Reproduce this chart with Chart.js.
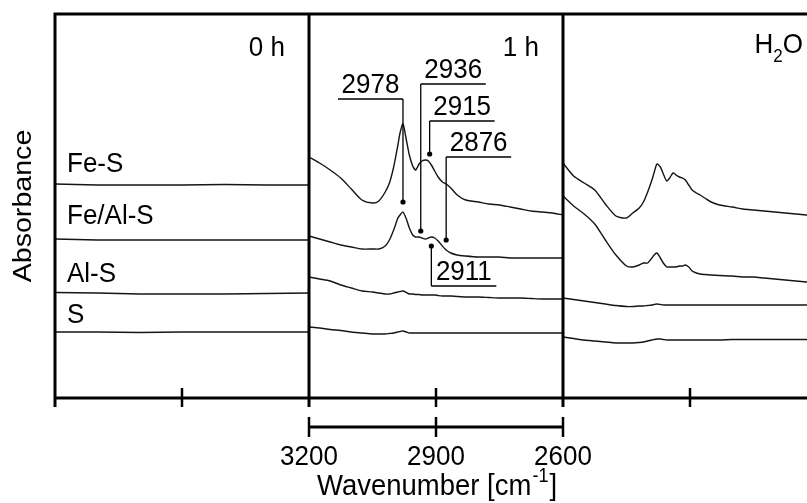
<!DOCTYPE html>
<html>
<head>
<meta charset="utf-8">
<script src="https://cdn.jsdelivr.net/npm/chart.js@4.4.0/dist/chart.umd.min.js"></script>
<style>
  html, body { margin: 0; padding: 0; background: #fff; }
  canvas { display: block; }
</style>
</head>
<body>
<canvas id="c" width="807" height="503"></canvas>
<script>
// panels and samples
const panels = ['0 h', '1 h', 'H2O'];
const samples = ['Fe-S', 'Fe/Al-S', 'Al-S', 'S'];

// wavenumber grids (cm-1)
const wnFlat = [3200, 3100, 3000, 2900, 2800, 2700, 2600];
const wnGrid = [3200, 3175, 3150, 3125, 3100, 3075, 3050, 3035, 3020, 3010,
                3000, 2990, 2985, 2978, 2970, 2963, 2955, 2948, 2940, 2933,
                2925, 2918, 2911, 2903, 2895, 2885, 2876, 2865, 2850, 2830,
                2800, 2775, 2750, 2725, 2700, 2675, 2650, 2625, 2600];

// absorbance (offset, a.u.) - 0 h
const feS_0h   = [214, 213, 213, 213, 213.5, 213, 213];
const feAlS_0h = [159, 158, 158, 158, 158, 158, 158];
const alS_0h   = [105.5, 105, 104, 104, 104, 104.5, 105];
const s_0h     = [66, 66, 65.5, 66, 66, 66, 66];

// 1 h
const feS_1h = [241, 235, 228, 220, 209, 198, 195, 197, 206, 215,
                231, 253, 265, 274, 258, 243, 232, 228, 234, 237,
                238, 237, 233, 227, 221, 216, 214, 210, 203, 198,
                196, 194, 193, 191, 189, 187, 186, 185, 183];
const feAlS_1h = [162, 159, 156, 153, 151, 149, 149, 149, 152, 158,
                  168, 180, 183, 186, 179, 170, 163, 161, 161, 160,
                  159, 160, 161, 160, 157, 152, 148, 145, 143, 142,
                  141, 141, 141, 140, 140, 140, 140, 140, 140];
const alS_1h = [121, 119, 117, 113, 110, 107, 106, 105, 104, 104,
                105, 106, 106.5, 107, 105.5, 104, 104, 103.5, 103.5, 103,
                103, 103, 103, 103, 102.5, 102, 102, 102, 101.5, 101,
                101, 100.5, 100, 100, 100, 99.5, 99, 99, 99];
const s_1h = [71, 70, 68.5, 67.5, 66, 65, 64, 64, 64, 64.5,
              65, 66, 66.5, 67, 66, 65, 65, 65, 65, 65,
              65, 65, 65, 65, 65, 65, 65, 65, 65, 65,
              65, 65, 65, 65, 65, 65, 65, 65, 65];

// H2O
const feS_h2o = [235, 222, 215, 208, 194, 182, 180, 185, 190, 196,
                 206, 218, 225, 234, 231, 224, 217, 220, 225, 223,
                 221, 220, 218, 213, 208, 205, 203, 200, 196, 193,
                 191, 189, 188, 187, 186, 185, 184, 183, 183];
const feAlS_h2o = [202, 192, 184, 174, 158, 143, 132, 131, 133, 135,
                   135, 140, 143, 145, 140, 135, 131, 131, 131, 131,
                   132, 132, 133, 131, 127, 125, 124, 123.5, 123, 122.5,
                   122, 121, 121, 120, 119, 118, 117, 116, 116];
const alS_h2o = [100, 98.5, 97, 95.5, 94, 92.5, 91.5, 91.5, 92, 92,
                 92.5, 93, 93.5, 94, 93.5, 93, 93, 93, 93, 93,
                 93, 93, 93, 93, 93, 93, 93, 93, 93, 93,
                 93, 93, 93, 93, 93, 93, 93, 93, 93];
const s_h2o = [61, 59.5, 58, 57, 56, 55, 55, 55, 55.5, 56,
               57, 58, 58.5, 59, 59, 58.5, 58, 58, 58, 58,
               58, 58, 58, 58, 58, 58, 58, 58, 58, 58,
               58.5, 58.5, 58.5, 58.5, 58.5, 58.5, 58.5, 58.5, 58.5];

// marked peaks in the 1 h panel
const peakLabels = ['2978', '2936', '2915', '2876', '2911'];
const peakWn     = [2978, 2936, 2915, 2876, 2911];
const peakDot    = [196, 167, 244, 158, 152];

// wavenumber scale bar
const scaleTicks = [3200, 2900, 2600];

const WN_HI = 3200, WN_SPAN = 600;
const xOf = (panel, wn) => panel + (WN_HI - wn) / WN_SPAN;

function series(panel, wns, vals) {
  return wns.map((w, i) => ({ x: xOf(panel, w), y: vals[i] }));
}

const panelData = [
  { wn: wnFlat, sets: [feS_0h, feAlS_0h, alS_0h, s_0h] },
  { wn: wnGrid, sets: [feS_1h, feAlS_1h, alS_1h, s_1h] },
  { wn: wnGrid, sets: [feS_h2o, feAlS_h2o, alS_h2o, s_h2o] }
];

const datasets = [];
panelData.forEach((p, pi) => {
  p.sets.forEach((vals, si) => {
    datasets.push({
      label: samples[si] + ' ' + panels[pi],
      data: series(pi, p.wn, vals),
      borderColor: '#151515',
      borderWidth: 1.4,
      pointRadius: 0,
      tension: 0.25,
      fill: false
    });
  });
});

const FONT = '"Liberation Sans", Arial, Helvetica, sans-serif';

function txt(ctx, s, x, y, size, align) {
  ctx.save();
  ctx.font = size + 'px ' + FONT;
  ctx.textAlign = align || 'left';
  ctx.textBaseline = 'alphabetic';
  ctx.translate(x, y);
  ctx.scale(1, 1.08);
  ctx.fillText(s, 0, 0);
  ctx.restore();
}

const framePlugin = {
  id: 'frame',
  afterDraw(chart) {
    const ctx = chart.ctx;
    const xs = chart.scales.x, ys = chart.scales.y;
    const a = chart.chartArea;
    const X = v => xs.getPixelForValue(v);
    const Y = v => ys.getPixelForValue(v);
    ctx.save();
    ctx.strokeStyle = '#000';
    ctx.fillStyle = '#000';
    ctx.lineCap = 'butt';

    // frame + panel dividers
    ctx.lineWidth = 3;
    ctx.beginPath();
    ctx.moveTo(a.left, a.top); ctx.lineTo(a.right, a.top);
    ctx.moveTo(a.left, a.bottom); ctx.lineTo(a.right, a.bottom);
    [0, 1, 2].forEach(p => {
      ctx.moveTo(X(p), a.top - 1.5); ctx.lineTo(X(p), a.bottom + 9);
    });
    ctx.stroke();

    // minor ticks across bottom axis
    ctx.lineWidth = 2.5;
    ctx.beginPath();
    [0.5, 1.5, 2.5].forEach(p => {
      ctx.moveTo(X(p), a.bottom - 10); ctx.lineTo(X(p), a.bottom + 9);
    });
    ctx.stroke();

    // scale bar for 1 h panel
    const barY = a.bottom + 29;
    ctx.lineWidth = 3;
    ctx.beginPath();
    ctx.moveTo(X(xOf(1, WN_HI)), barY); ctx.lineTo(X(xOf(1, WN_HI - WN_SPAN)), barY);
    ctx.stroke();
    ctx.lineWidth = 2.5;
    ctx.beginPath();
    scaleTicks.forEach(w => {
      ctx.moveTo(X(xOf(1, w)), barY - 10); ctx.lineTo(X(xOf(1, w)), barY + 10);
    });
    ctx.stroke();
    scaleTicks.forEach(w => txt(ctx, String(w), X(xOf(1, w)), 465, 26, 'center'));

    // x title with superscript
    const tSize = 27.5, sSize = 18;
    const t1 = 'Wavenumber [cm', t3 = ']';
    ctx.font = sSize + 'px ' + FONT;
    const wSup = ctx.measureText('-1').width;
    ctx.font = tSize + 'px ' + FONT;
    const w1 = ctx.measureText(t1).width, w3 = ctx.measureText(t3).width;
    const total = w1 + wSup + 2 + w3;
    let tx = 437 - total / 2;
    txt(ctx, t1, tx, 495, tSize, 'left');
    txt(ctx, '-1', tx + w1 + 1, 482, sSize, 'left');
    txt(ctx, t3, tx + w1 + wSup + 2, 495, tSize, 'left');

    // y title
    ctx.save();
    ctx.translate(31, 206);
    ctx.rotate(-Math.PI / 2);
    ctx.scale(1.1, 1);
    ctx.font = '26px ' + FONT;
    ctx.textAlign = 'center';
    ctx.textBaseline = 'alphabetic';
    ctx.fillText('Absorbance', 0, 0);
    ctx.restore();

    // panel titles
    txt(ctx, '0 h', 285, 56, 26, 'right');
    txt(ctx, '1 h', 539, 56, 26, 'right');
    ctx.font = '26px ' + FONT;
    const wO = ctx.measureText('O').width;
    ctx.font = '17px ' + FONT;
    const w2 = ctx.measureText('2').width;
    txt(ctx, 'O', 803 - wO, 53, 26, 'left');
    txt(ctx, '2', 803 - wO - w2, 62, 17, 'left');
    txt(ctx, 'H', 803 - wO - w2, 53, 26, 'right');

    // sample labels in 0 h panel
    const labY = [172, 224, 282, 323];
    samples.forEach((s, i) => txt(ctx, s, 67, labY[i], 26, 'left'));

    // peak callouts
    const o = chart.options.plugins.frame;
    ctx.lineWidth = 1.3;
    peakWn.forEach((w, i) => {
      const px = X(xOf(1, w));
      const dy = Y(peakDot[i]);
      const ly = Y(o.lineAt[i]);
      const len = 65;
      const x1 = o.side[i] === 'left' ? px - len : px;
      const x2 = x1 + len;
      ctx.beginPath();
      ctx.moveTo(px, dy); ctx.lineTo(px, ly);
      ctx.moveTo(x1, ly); ctx.lineTo(x2, ly);
      ctx.stroke();
      ctx.beginPath();
      ctx.arc(px, dy, 2.6, 0, Math.PI * 2);
      ctx.fill();
      txt(ctx, peakLabels[i], (x1 + x2) / 2, ly - 6, 26, 'center');
    });
    ctx.restore();
  }
};

new Chart(document.getElementById('c').getContext('2d'), {
  type: 'line',
  data: { datasets },
  options: {
    responsive: false,
    animation: false,
    layout: { padding: { left: 55, top: 14, right: 0, bottom: 105 } },
    scales: {
      x: { type: 'linear', min: 0, max: 752 / 254, display: false },
      y: { type: 'linear', min: 0, max: 384, display: false }
    },
    plugins: {
      legend: { display: false },
      tooltip: { enabled: false },
      frame: {
        lineAt: [299, 314, 277, 241, 112],
        side: ['left', 'right', 'right', 'right', 'right']
      }
    }
  },
  plugins: [framePlugin]
});
</script>
</body>
</html>
